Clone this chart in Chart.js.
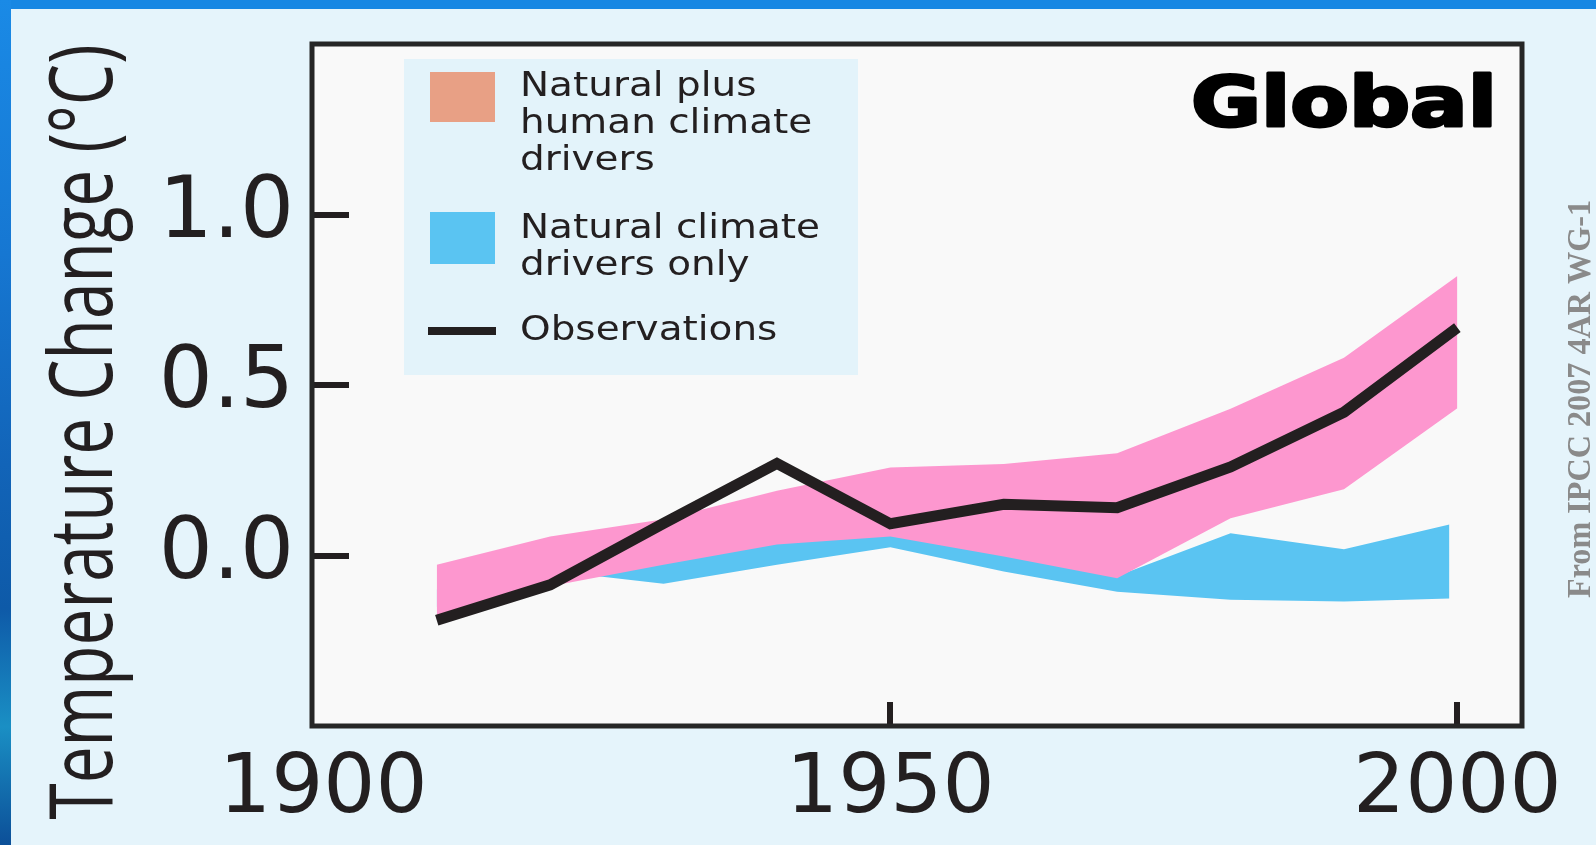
<!DOCTYPE html>
<html>
<head>
<meta charset="utf-8">
<script src="https://cdn.jsdelivr.net/npm/chart.js@4.4.1/dist/chart.umd.min.js"></script>
<style>
  html, body { margin:0; padding:0; }
  body { width:1596px; height:845px; overflow:hidden; position:relative; background:#1787e3; }
  #strip { position:absolute; left:0; top:0; width:11px; height:845px;
    background:linear-gradient(180deg,#1a8ae6 0%,#1677d2 30%,#1264b8 55%,#0e5aa8 72%,#1a8fc4 86%,#0c4f98 100%); }
  #panel { position:absolute; left:11px; top:9px; right:0; bottom:0; background:#e5f4fb; }
  #c { position:absolute; left:0; top:0; }
</style>
</head>
<body>
<div id="strip"></div>
<div id="panel"></div>
<canvas id="c" width="1596" height="845"></canvas>
<script>
// ---- data ----
const years = [1910, 1920, 1930, 1940, 1950, 1960, 1970, 1980, 1990, 2000];
const observations = [-0.19, -0.086, 0.094, 0.27, 0.093, 0.15, 0.14, 0.26, 0.42, 0.668];
const humanUpper = [-0.027, 0.056, 0.106, 0.19, 0.258, 0.268, 0.30, 0.43, 0.58, 0.82];
const humanLower = [-0.19, -0.09, -0.027, 0.032, 0.056, -0.003, -0.067, 0.109, 0.194, 0.432];
const naturalYears = [1910, 1920, 1930, 1940, 1950, 1960, 1970, 1980, 1990, 1999.3];
const naturalUpper = [-0.10, -0.03, -0.02, 0.04, 0.062, 0.0, -0.06, 0.065, 0.018, 0.091];
const naturalLower = [-0.15, -0.045, -0.083, -0.027, 0.024, -0.047, -0.106, -0.13, -0.135, -0.126];
const xTickValues = [1900, 1950, 2000];
const yTickValues = [0.0, 0.5, 1.0];
const xMarkTicks = [1950, 2000];
const legendItems = [
  { lines: ['Natural plus', 'human climate', 'drivers'], kind: 'box', color: '#e8a085' },
  { lines: ['Natural climate', 'drivers only'], kind: 'box', color: '#5ac4f2' },
  { lines: ['Observations'], kind: 'line', color: '#231f20' }
];
const yTitle = 'Temperature Change (\u00B0C)';
const panelTitle = 'Global';
const credit = 'From IPCC 2007 4AR WG-1';

const PINK = '#fd97cf';
const BLUE = '#5ac4f2';
const INK = '#231f20';

const pts = (xs, ys) => xs.map((x, i) => ({ x: x, y: ys[i] }));

const decoPlugin = {
  id: 'deco',
  beforeDraw(chart) {
    const { ctx, chartArea: a } = chart;
    ctx.save();
    ctx.fillStyle = '#f9f9f9';
    ctx.fillRect(a.left, a.top, a.right - a.left, a.bottom - a.top);
    ctx.restore();
  },
  afterDatasetsDraw(chart) {
    const { ctx, chartArea: a } = chart;
    const xs = chart.scales.x, ys = chart.scales.y;
    ctx.save();
    // inward tick marks
    ctx.strokeStyle = INK;
    ctx.lineWidth = 6;
    yTickValues.forEach(v => {
      const y = Math.round(ys.getPixelForValue(v));
      ctx.beginPath(); ctx.moveTo(a.left, y); ctx.lineTo(a.left + 37, y); ctx.stroke();
    });
    xMarkTicks.forEach(v => {
      const x = Math.round(xs.getPixelForValue(v));
      ctx.beginPath(); ctx.moveTo(x, a.bottom); ctx.lineTo(x, a.bottom - 24); ctx.stroke();
    });
    // frame
    ctx.strokeStyle = '#262626';
    ctx.lineWidth = 5;
    ctx.strokeRect(a.left, a.top, a.right - a.left, a.bottom - a.top);

    // legend
    ctx.fillStyle = '#e3f3fa';
    ctx.fillRect(404, 59, 454, 316);
    ctx.font = '33px "DejaVu Sans"';
    const sx = 300 / ctx.measureText('Natural climate').width;
    const baselines = [[96, 133, 170], [238, 275], [340]];
    const swatchY = [72, 212, 331];
    legendItems.forEach((it, i) => {
      ctx.fillStyle = it.color;
      if (it.kind === 'box') {
        ctx.fillRect(430, swatchY[i], 65, i === 0 ? 50 : 52);
      } else {
        ctx.fillRect(428, swatchY[i] - 4, 68, 8);
      }
      ctx.fillStyle = INK;
      ctx.textAlign = 'left';
      ctx.textBaseline = 'alphabetic';
      it.lines.forEach((t, j) => {
        ctx.save();
        ctx.translate(520, baselines[i][j]);
        ctx.scale(sx, 1);
        ctx.fillText(t, 0, 0);
        ctx.restore();
      });
    });

    // "Global"
    ctx.font = 'bold 70px "DejaVu Sans"';
    ctx.fillStyle = '#000';
    ctx.strokeStyle = '#000';
    ctx.lineWidth = 3;
    ctx.lineJoin = 'round';
    const gw = ctx.measureText(panelTitle).width;
    const gs = 306 / gw;
    ctx.save();
    ctx.translate(1497, 126);
    ctx.scale(gs, 1);
    ctx.textAlign = 'right';
    ctx.textBaseline = 'alphabetic';
    ctx.fillText(panelTitle, 0, 0);
    ctx.strokeText(panelTitle, 0, 0);
    ctx.restore();
    ctx.restore();
  },
  afterDraw(chart) {
    const ctx = chart.ctx;
    ctx.save();
    // y-axis title (condensed along its length)
    ctx.font = '88px "Open Sans"';
    ctx.fillStyle = INK;
    const tw = ctx.measureText(yTitle).width;
    ctx.translate(112, 432);
    ctx.rotate(-Math.PI / 2);
    ctx.scale(775 / tw, 1);
    ctx.textAlign = 'center';
    ctx.textBaseline = 'alphabetic';
    ctx.fillText(yTitle, 0, 0);
    ctx.restore();

    // credit
    ctx.save();
    ctx.font = 'bold 33px "Liberation Serif"';
    ctx.fillStyle = '#8a8a8a';
    const cw = ctx.measureText(credit).width;
    ctx.translate(1590, 399);
    ctx.rotate(-Math.PI / 2);
    ctx.scale(398 / cw, 1);
    ctx.textAlign = 'center';
    ctx.textBaseline = 'alphabetic';
    ctx.fillText(credit, 0, 0);
    ctx.restore();
  }
};

new Chart(document.getElementById('c'), {
  type: 'line',
  data: {
    datasets: [
      { label: 'Observations', data: pts(years, observations), borderColor: INK, borderWidth: 11,
        pointRadius: 0, fill: false, order: 0, tension: 0, borderJoinStyle: 'miter', borderCapStyle: 'butt' },
      { label: 'human-lower', data: pts(years, humanLower), borderColor: 'rgba(0,0,0,0)', borderWidth: 0,
        pointRadius: 0, fill: false, order: 1 },
      { label: 'Natural plus human climate drivers', data: pts(years, humanUpper), borderColor: 'rgba(0,0,0,0)',
        borderWidth: 0, pointRadius: 0, fill: '-1', backgroundColor: PINK, order: 1 },
      { label: 'natural-lower', data: pts(naturalYears, naturalLower), borderColor: 'rgba(0,0,0,0)', borderWidth: 0,
        pointRadius: 0, fill: false, order: 2 },
      { label: 'Natural climate drivers only', data: pts(naturalYears, naturalUpper), borderColor: 'rgba(0,0,0,0)',
        borderWidth: 0, pointRadius: 0, fill: '-1', backgroundColor: BLUE, order: 2 }
    ]
  },
  options: {
    responsive: false,
    animation: false,
    devicePixelRatio: 1,
    layout: { padding: { top: 44, right: 74, left: 0, bottom: 0 } },
    plugins: { legend: { display: false }, tooltip: { enabled: false }, filler: { propagate: false } },
    scales: {
      x: {
        type: 'linear', min: 1899, max: 2005.7,
        afterBuildTicks: s => { s.ticks = xTickValues.map(v => ({ value: v })); },
        afterFit: s => { s.height = 119; s.paddingLeft = 0; s.paddingRight = 0; },
        grid: { display: false }, border: { display: false },
        ticks: { color: INK, font: { family: 'DejaVu Sans', size: 82 }, padding: 8, maxRotation: 0,
          autoSkip: false, callback: v => String(v) }
      },
      y: {
        min: -0.5, max: 1.5,
        afterBuildTicks: s => { s.ticks = yTickValues.map(v => ({ value: v })); },
        afterFit: s => { s.width = 312; s.paddingTop = 0; s.paddingBottom = 0; },
        grid: { display: false }, border: { display: false },
        ticks: { color: INK, font: { family: 'DejaVu Sans', size: 85 }, padding: 10,
          callback: v => Number(v).toFixed(1) }
      }
    }
  },
  plugins: [decoPlugin]
});
</script>
</body>
</html>
